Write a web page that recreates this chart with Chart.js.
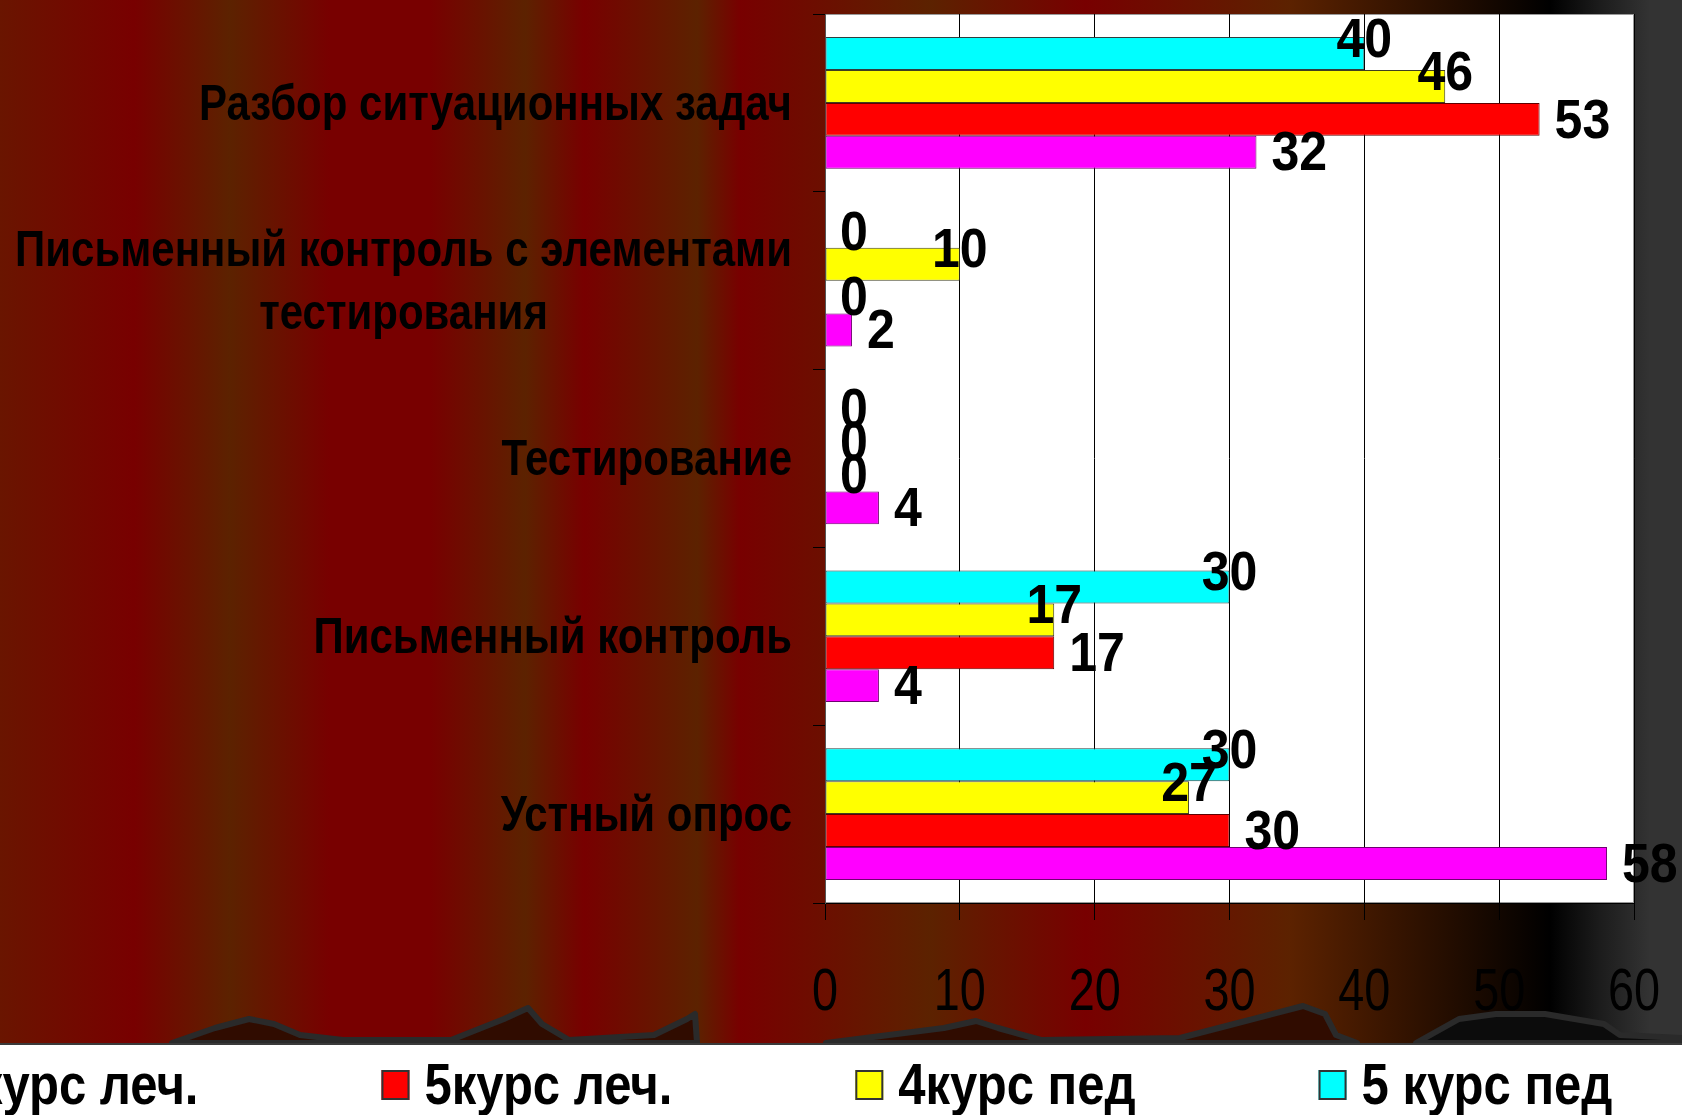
<!DOCTYPE html>
<html>
<head>
<meta charset="utf-8">
<script src="https://cdn.jsdelivr.net/npm/chart.js@4.4.1/dist/chart.umd.min.js"></script>
<style>
  html, body { margin: 0; padding: 0; width: 1682px; height: 1115px; overflow: hidden; }
  body {
    position: relative;
    background: linear-gradient(to right,
      #6a1500 0px, #780000 134px, #5c2200 230px, #780000 330px, #780000 430px,
      #5c2200 525px, #780000 584px, #5c2200 697px, #780000 740px, #5c2200 930px,
      #780000 1085px, #5c2200 1290px, #000000 1550px, #1c1c1c 1600px, #333333 1650px);
  }
  #strip { position: absolute; left: 0; top: 1043px; width: 1682px; height: 72px; background: #fff; border-top: 2px solid #3a3a3a; }
  #hills { position: absolute; left: 0; top: 0; }
  #chart { position: absolute; left: 0; top: 0; }
</style>
</head>
<body>
<svg id="hills" width="1682" height="1115">
  <path d="M172,1043 L215,1028 L249,1019 L274,1024 L300,1035 L343,1040 L451,1040 L504,1019 L528,1008 L542,1024 L569,1040 L654,1035 L687,1019 L695,1014 L697,1043 Z"
        fill="#300c00" stroke="#2a2a2a" stroke-width="6" stroke-linejoin="round"/>
  <path d="M826,1043 L944,1028 L976,1021 L998,1028 L1041,1040 L1180,1038 L1234,1024 L1303,1006 L1325,1014 L1336,1035 L1357,1043 Z"
        fill="#300c00" stroke="#2a2a2a" stroke-width="6" stroke-linejoin="round"/>
  <path d="M1416,1043 L1459,1019 L1496,1014 L1545,1014 L1604,1024 L1620,1035 L1682,1038 L1682,1043 Z"
        fill="#0c0c0c" stroke="#2a2a2a" stroke-width="6" stroke-linejoin="round"/>
</svg>
<div id="strip"></div>
<canvas id="chart" width="1682" height="1115"></canvas>
<script>
// data
const categories = [
    'Разбор ситуационных задач',
    ['Письменный контроль с элементами', 'тестирования'],
    'Тестирование',
    'Письменный контроль',
    'Устный опрос',
];
const seriesNames = ['5 курс пед', '4курс пед', '5курс леч.', '4курс леч.'];
const ped5 = [40, 0, 0, 30, 30];
const ped4 = [46, 10, 0, 17, 27];
const lech5 = [53, 0, 0, 17, 30];
const lech4 = [32, 2, 4, 4, 58];
const xTicks = [0, 10, 20, 30, 40, 50, 60];

const SANS = "'Liberation Sans', Arial, sans-serif";

// no narrow font installed, so squeeze Liberation Sans sideways
function narrowText(ctx, text, x, y, align, sx) {
    ctx.save();
    ctx.translate(x, y);
    ctx.scale(sx, 1);
    ctx.textAlign = align;
    ctx.fillText(text, 0, 0);
    ctx.restore();
}

// white plot area
const plotBg = {
    id: 'plotBg',
    beforeDraw(chart) {
        const { ctx, chartArea: a } = chart;
        ctx.save();
        ctx.fillStyle = '#fff';
        ctx.fillRect(a.left, a.top, a.right - a.left, a.bottom - a.top);
        ctx.strokeStyle = '#999';
        ctx.lineWidth = 1;
        ctx.strokeRect(a.left + 0.5, a.top + 0.5, a.right - a.left - 1, a.bottom - a.top - 1);
        ctx.restore();
    }
};

// numbers next to the bars
const valueLabels = {
    id: 'valueLabels',
    afterDatasetsDraw(chart) {
        const ctx = chart.ctx;
        ctx.save();
        ctx.font = 'bold 55px ' + SANS;
        ctx.fillStyle = '#000';
        ctx.textBaseline = 'middle';
        chart.data.datasets.forEach((ds, di) => {
            chart.getDatasetMeta(di).data.forEach((bar, i) => {
                const v = ds.data[i];
                if (v > 0 && ds.labelAbove) {
                    narrowText(ctx, String(v), bar.x, bar.y - 12, 'center', 0.91);
                } else {
                    narrowText(ctx, String(v), bar.x + 15, bar.y + 3, 'left', 0.91);
                }
            });
        });
        ctx.restore();
    }
};

// x tick numbers, thin and tall
const xTickLabels = {
    id: 'xTickLabels',
    afterDraw(chart) {
        const ctx = chart.ctx;
        const x = chart.scales.x;
        ctx.save();
        ctx.font = '60px ' + SANS;
        ctx.fillStyle = '#000';
        ctx.textBaseline = 'middle';
        x.ticks.forEach(t => {
            narrowText(ctx, String(t.value), x.getPixelForValue(t.value), 993, 'center', 0.78);
        });
        ctx.restore();
    }
};

// category names, right aligned block, lines centred inside it
const categoryLabels = {
    id: 'categoryLabels',
    afterDraw(chart) {
        const ctx = chart.ctx;
        const y = chart.scales.y;
        const right = chart.chartArea.left - 33;
        const lineH = 63, sx = 0.84;
        ctx.save();
        ctx.font = 'bold 50px ' + SANS;
        ctx.fillStyle = '#000';
        ctx.textBaseline = 'middle';
        categories.forEach((lab, i) => {
            const lines = Array.isArray(lab) ? lab : [lab];
            const w = Math.max(...lines.map(l => ctx.measureText(l).width)) * sx;
            const yc = y.getPixelForValue(i);
            lines.forEach((l, j) => {
                narrowText(ctx, l, right - w / 2, yc + 3 + (j - (lines.length - 1) / 2) * lineH, 'center', sx);
            });
        });
        ctx.restore();
    }
};

// legend in the white strip (runs off the left edge like the slide)
const stripLegend = {
    id: 'stripLegend',
    afterDraw(chart) {
        const ctx = chart.ctx;
        const items = chart.data.datasets.slice().reverse();
        const boxW = 28, boxH = 30, gap = 15, spacing = 183, centerX = 760, cy = 1085, sx = 0.86;
        ctx.save();
        ctx.font = 'bold 57px ' + SANS;
        ctx.textBaseline = 'middle';
        const widths = items.map(d => boxW + gap + ctx.measureText(d.label).width * sx);
        const total = widths.reduce((a, b) => a + b, 0) + spacing * (items.length - 1);
        let x = centerX - total / 2;
        items.forEach((d, i) => {
            ctx.fillStyle = d.backgroundColor;
            ctx.fillRect(x, cy - boxH / 2, boxW, boxH);
            ctx.strokeStyle = '#333';
            ctx.lineWidth = 2;
            ctx.strokeRect(x + 1, cy - boxH / 2 + 1, boxW - 2, boxH - 2);
            ctx.fillStyle = '#000';
            narrowText(ctx, d.label, x + boxW + gap, cy + 3, 'left', sx);
            x += widths[i] + spacing;
        });
        ctx.restore();
    }
};

new Chart(document.getElementById('chart'), {
    type: 'bar',
    data: {
        labels: categories,
        datasets: [
            { label: seriesNames[0], data: ped5, backgroundColor: '#00ffff', borderColor: '#2f3f3f', labelAbove: true },
            { label: seriesNames[1], data: ped4, backgroundColor: '#ffff00', borderColor: '#3f3f20', labelAbove: true },
            { label: seriesNames[2], data: lech5, backgroundColor: '#ff0000', borderColor: '#600000', labelAbove: false },
            { label: seriesNames[3], data: lech4, backgroundColor: '#ff00ff', borderColor: '#700070', labelAbove: false },
        ],
    },
    options: {
        indexAxis: 'y',
        responsive: false,
        animation: false,
        layout: { padding: { left: 0, right: 48, top: 14, bottom: 0 } },
        datasets: {
            bar: { barPercentage: 1, categoryPercentage: 0.74, borderWidth: 1, borderSkipped: false },
        },
        plugins: {
            legend: { display: false },
            tooltip: { enabled: false },
        },
        scales: {
            x: {
                min: xTicks[0],
                max: xTicks[xTicks.length - 1],
                afterFit: s => { s.height = 212; },
                ticks: { stepSize: xTicks[1] - xTicks[0], display: false },
                grid: { color: '#000', lineWidth: 1, tickLength: 17 },
                border: { display: true, color: '#000', width: 1 },
            },
            y: {
                afterFit: s => { s.width = 825; },
                ticks: { display: false },
                grid: { drawOnChartArea: false, color: '#000', tickLength: 12 },
                border: { display: true, color: '#555', width: 1 },
            },
        },
    },
    plugins: [plotBg, valueLabels, xTickLabels, categoryLabels, stripLegend],
});
</script>
</body>
</html>
